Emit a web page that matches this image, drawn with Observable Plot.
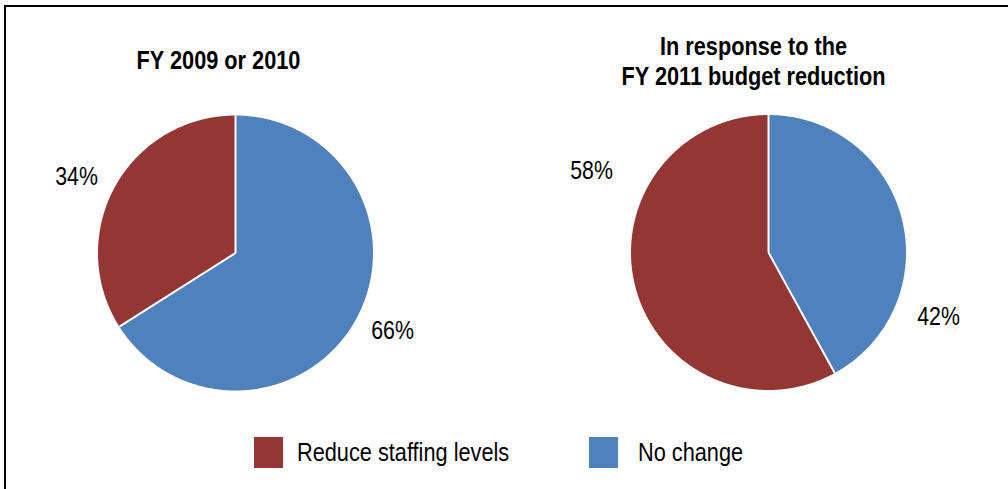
<!DOCTYPE html>
<html><head><meta charset="utf-8">
<script src="https://cdn.jsdelivr.net/npm/d3@7"></script>
<script src="https://cdn.jsdelivr.net/npm/@observablehq/plot@0.6"></script>
<style>
html,body{margin:0;padding:0;background:#fff;overflow:hidden;width:1008px;height:489px}
#frame{position:absolute;left:4px;top:5px;width:1100px;height:600px;border-top:2px solid #000;border-left:2px solid #000;box-sizing:border-box}
#chart{position:absolute;left:0;top:0}
#legend{position:absolute;left:0;top:420px;width:1008px;height:69px;font-family:"Liberation Sans",Arial,sans-serif;font-size:26.5px;color:#000}
.sw{position:absolute;top:17px;width:29px;height:31px}
.lt{position:absolute;top:17px;height:30px;line-height:30px;white-space:nowrap;transform:scaleX(0.82);transform-origin:0 50%}
</style>
</head><body>
<div id="frame"></div>
<div id="chart"></div>
<div id="legend"></div>
<script>
// ---- data ----
const categories = ["No change", "Reduce staffing levels"];
const pie1Values = [66, 34];
const pie2Values = [42, 58];
const pieTitles = ["FY 2009 or 2010", "In response to the\nFY 2011 budget reduction"];
const seriesColors = ["#4F81BD", "#943634"];
const legendOrder = ["Reduce staffing levels", "No change"];

// ---- layout ----
const W = 1008, H = 420;
const centers = [[235, 252.5], [768, 252]];
const radius = 137.5;
const titlePos = [[218, 59], [753, 60]];
const labelPos = [[[392, 330], [76, 176]], [[938, 316], [591, 170]]];
const fontFam = '"Liberation Sans",Arial,sans-serif';
const narrow = 0.82;

const pies = [pie1Values, pie2Values];
const pieGen = d3.pie().sort(null).value(d => d);

const sliceMarks = [];
const sepRows = [];
const labelRows = [];
const titleRows = [];

pies.forEach((vals, pi) => {
  const [cx, cy] = centers[pi];
  const arcs = pieGen(vals);
  arcs.forEach((a, si) => {
    const pts = [{x: cx, y: cy}];
    const n = Math.max(2, Math.ceil((a.endAngle - a.startAngle) / (Math.PI / 360)));
    for (let k = 0; k <= n; k++) {
      const t = a.startAngle + (a.endAngle - a.startAngle) * k / n;
      pts.push({x: cx + radius * Math.sin(t), y: cy - radius * Math.cos(t)});
    }
    pts.push({x: cx, y: cy});
    sliceMarks.push(Plot.line(pts, {x: "x", y: "y", fill: seriesColors[si], stroke: "none", curve: "linear"}));
    sepRows.push({x1: cx, y1: cy, x2: cx + radius * Math.sin(a.startAngle), y2: cy - radius * Math.cos(a.startAngle)});
    labelRows.push({x: labelPos[pi][si][0], y: labelPos[pi][si][1], text: Math.round(a.value) + "%"});
  });
  titleRows.push({x: titlePos[pi][0], y: titlePos[pi][1], text: pieTitles[pi]});
});

const chart = Plot.plot({
  width: W, height: H,
  margin: 0,
  x: {type: "linear", domain: [0, W], range: [0, W], axis: null},
  y: {type: "linear", domain: [0, H], range: [0, H], axis: null},
  style: {background: "transparent", overflow: "visible"},
  marks: [
    ...sliceMarks,
    Plot.link(sepRows, {x1: "x1", y1: "y1", x2: "x2", y2: "y2", stroke: "white", strokeWidth: 2}),
    Plot.text(labelRows, {x: "x", y: "y", text: "text", fontSize: 26, fontFamily: fontFam, fill: "#000"}),
    Plot.text(titleRows, {x: "x", y: "y", text: "text", fontSize: 26.5, fontWeight: "bold", fontFamily: fontFam, fill: "#000", lineHeight: 1.13})
  ]
});
// condense text horizontally (Arial Narrow look)
chart.querySelectorAll("text").forEach(t => {
  const tr = t.getAttribute("transform") || "";
  t.setAttribute("transform", tr + ` scale(${narrow},1)`);
});
document.getElementById("chart").appendChild(chart);

// legend
const legendX = {"Reduce staffing levels": [254, 297], "No change": [589, 638]};
const leg = document.getElementById("legend");
legendOrder.forEach(name => {
  const ci = categories.indexOf(name);
  const sw = document.createElement("div");
  sw.className = "sw"; sw.style.left = legendX[name][0] + "px"; sw.style.background = seriesColors[ci];
  const lt = document.createElement("div");
  lt.className = "lt"; lt.style.left = legendX[name][1] + "px"; lt.textContent = name;
  leg.appendChild(sw); leg.appendChild(lt);
});
</script>
</body></html>
